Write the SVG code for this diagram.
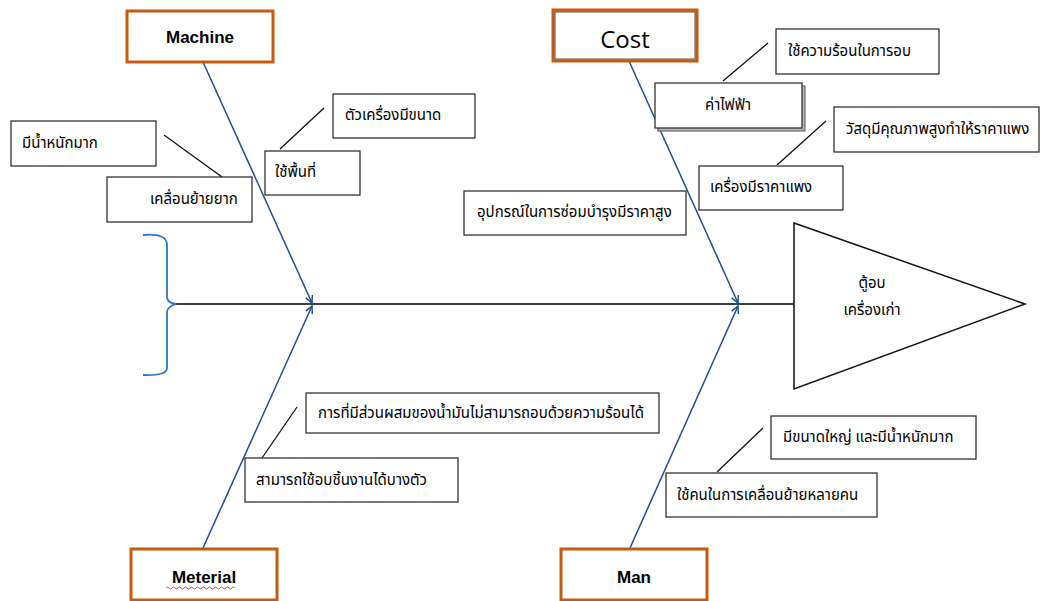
<svg xmlns="http://www.w3.org/2000/svg" width="1041" height="601" viewBox="0 0 1041 601">
<style>
.cat{fill:#fff;stroke:#c55a11;stroke-width:3}
.catin{fill:none;stroke:#3a1a00;stroke-width:0.8}
.box{fill:#fff;stroke:#333;stroke-width:1.3}
.bone{stroke:#1f4e8f;stroke-width:1.5;fill:none}
.sub{stroke:#111;stroke-width:1.3;fill:none}
.th{font-family:"Noto Sans","Noto Sans Thai","DejaVu Sans",sans-serif;font-size:15px;fill:#000}
.lbl{font-family:"Liberation Sans",Arial,sans-serif;font-size:17px;font-weight:bold;fill:#000;text-anchor:middle}
</style>
<defs>
<marker id="ah" viewBox="0 0 10 10" refX="9" refY="5" markerWidth="6" markerHeight="6" orient="auto-start-reverse">
<path d="M1,1 L9,5 L1,9" fill="none" stroke="#1f4e8f" stroke-width="1.6"/>
</marker>
</defs>
<rect width="1041" height="601" fill="#fff"/>
<g id="connectors">
<line x1="175" y1="304" x2="795" y2="304" stroke="#000" stroke-width="1.5"/>
<path d="M143,235 Q167,233 167,245 L167,298 Q168,303 176,304 Q168,306 167,312 L167,368 Q167,376 143,375" fill="none" stroke="#2e75c6" stroke-width="1.8"/>
<line class="bone" x1="203" y1="62" x2="312" y2="303" marker-end="url(#ah)"/>
<line class="bone" x1="203" y1="548" x2="312" y2="306" marker-end="url(#ah)"/>
<line class="bone" x1="629" y1="61" x2="738" y2="303" marker-end="url(#ah)"/>
<line class="bone" x1="630" y1="548" x2="738" y2="306" marker-end="url(#ah)"/>
<line class="sub" x1="164" y1="135" x2="222" y2="177"/>
<line class="sub" x1="280" y1="149" x2="324" y2="108"/>
<line class="sub" x1="723" y1="81" x2="768" y2="43"/>
<line class="sub" x1="777" y1="165" x2="826" y2="121"/>
<line class="sub" x1="262" y1="458" x2="297" y2="407"/>
<line class="sub" x1="717" y1="472" x2="763" y2="428"/>
</g>
<g id="machine">
<rect class="cat" x="127" y="11" width="146" height="51"/>
<text class="lbl" x="200" y="43">Machine</text>
</g>
<g id="cost">
<rect class="cat" x="553" y="10" width="144" height="51"/>
<rect class="catin" x="555" y="12" width="140" height="47"/>
<text x="625" y="48" font-family="Open Sans,Liberation Sans,sans-serif" font-size="24" text-anchor="middle" fill="#000">Cost</text>
</g>
<g id="meterial">
<rect class="cat" x="131" y="549" width="146" height="51"/>
<text class="lbl" x="204" y="583">Meterial</text>
<path d="M166,588 q1.5,-2 3,0 t3,0 t3,0 t3,0 t3,0 t3,0 t3,0 t3,0 t3,0 t3,0 t3,0 t3,0 t3,0 t3,0 t3,0 t3,0 t3,0 t3,0 t3,0 t3,0 t3,0 t3,0 t3,0" fill="none" stroke="#d02020" stroke-width="0.8"/>
</g>
<g id="man">
<rect class="cat" x="561" y="549" width="146" height="51"/>
<text class="lbl" x="634" y="583">Man</text>
</g>
<g id="head">
<polygon points="794,223 1025,304 794,389" fill="#fff" stroke="#111" stroke-width="1.5"/>
<text class="th" x="872" y="288" text-anchor="middle" font-size="16">ตู้อบ</text>
<text class="th" x="872" y="315" text-anchor="middle" font-size="16">เครื่องเก่า</text>
</g>
<g id="n1"><rect class="box" x="11" y="121" width="145" height="45"/><text class="th" x="22" y="148">มีน้ำหนักมาก</text></g>
<g id="n2"><rect class="box" x="107" y="177" width="145" height="45"/><text class="th" x="150" y="204">เคลื่อนย้ายยาก</text></g>
<g id="n3"><rect class="box" x="265" y="151" width="95" height="44"/><text class="th" x="275" y="177">ใช้พื้นที่</text></g>
<g id="n4"><rect class="box" x="333" y="94" width="142" height="44"/><text class="th" x="345" y="120">ตัวเครื่องมีขนาด</text></g>
<g id="n5"><rect class="box" x="464" y="191" width="222" height="44"/><text class="th" x="477" y="217">อุปกรณ์ในการซ่อมบำรุงมีราคาสูง</text></g>
<g id="n6"><rect x="658" y="86" width="147" height="45" fill="#bbb" stroke="#555" stroke-width="1"/><rect class="box" x="655" y="83" width="147" height="45"/><text class="th" x="728" y="110" text-anchor="middle">ค่าไฟฟ้า</text></g>
<g id="n7"><rect class="box" x="776" y="29" width="163" height="45"/><text class="th" x="788" y="56">ใช้ความร้อนในการอบ</text></g>
<g id="n8"><rect class="box" x="834" y="107" width="205" height="45"/><text class="th" x="846" y="134">วัสดุมีคุณภาพสูงทำให้ราคาแพง</text></g>
<g id="n9"><rect class="box" x="699" y="166" width="144" height="44"/><text class="th" x="710" y="192">เครื่องมีราคาแพง</text></g>
<g id="n10"><rect class="box" x="306" y="393" width="353" height="40"/><text class="th" x="318" y="418">การที่มีส่วนผสมของน้ำมันไม่สามารถอบด้วยความร้อนได้</text></g>
<g id="n11"><rect class="box" x="245" y="458" width="213" height="44"/><text class="th" x="256" y="485">สามารถใช้อบชิ้นงานได้บางตัว</text></g>
<g id="n12"><rect class="box" x="771" y="416" width="205" height="43"/><text class="th" x="783" y="442">มีขนาดใหญ่ และมีน้ำหนักมาก</text></g>
<g id="n13"><rect class="box" x="666" y="473" width="211" height="44"/><text class="th" x="677" y="500">ใช้คนในการเคลื่อนย้ายหลายคน</text></g>
</svg>
